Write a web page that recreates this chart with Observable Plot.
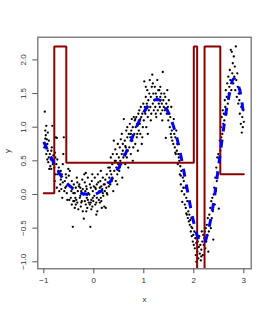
<!DOCTYPE html>
<html><head><meta charset="utf-8">
<script src="https://cdn.jsdelivr.net/npm/d3@7"></script>
<script src="https://cdn.jsdelivr.net/npm/@observablehq/plot@0.6"></script>
<style>body{margin:0;background:#fff}</style>
</head><body><div id="chart"></div>
<script>
const xTicks = [-1, 0, 1, 2, 3];
const yTicks = [-1, -0.5, 0, 0.5, 1, 1.5, 2];
const stepX = [-1, -0.79, -0.79, -0.55, -0.55, 2.0, 2.0, 2.067, 2.067, 2.215, 2.215, 2.53, 2.53, 3.0];
const stepY = [0.02, 0.02, 2.2, 2.2, 0.47, 0.47, 2.2, 2.2, -2, -2, 2.2, 2.2, 0.3, 0.3];
const fitX = [-1,-0.9,-0.8,-0.7,-0.6,-0.5,-0.4,-0.3,-0.2,-0.1,0,0.1,0.2,0.3,0.4,0.5,0.6,0.7,0.8,0.9,1,1.1,1.2,1.3,1.4,1.5,1.6,1.7,1.8,1.9,2,2.1,2.2,2.3,2.4,2.5,2.6,2.7,2.8,2.9,3];
const fitY = [0.78,0.62,0.47,0.33,0.22,0.14,0.08,0.03,0.01,0,0,0.03,0.08,0.16,0.28,0.4,0.55,0.72,0.9,1.08,1.22,1.33,1.4,1.41,1.35,1.2,1.0,0.72,0.35,-0.05,-0.42,-0.66,-0.72,-0.5,-0.1,0.45,1.0,1.45,1.72,1.6,1.15];
const points = [
[-0.98,1.23],[-0.97,0.95],[-0.95,1.02],[-0.96,0.88],[-0.94,0.82],[-0.93,0.75],[-0.99,0.7],[-0.92,0.65],[-0.95,0.6],[-0.9,0.55],[-0.93,0.52],[-0.91,0.48],[-0.96,0.72],[-0.9,0.8],[-0.92,0.92],[-0.97,0.83],
[-0.88,0.6],[-0.87,0.42],[-0.85,0.38],[-0.86,0.52],[-0.83,1.02],[-0.84,0.7],[-0.82,0.45],[-0.81,0.58],[-0.89,0.38],[-0.85,0.65],
[-0.78,0.62],[-0.77,0.55],[-0.76,0.85],[-0.74,0.84],[-0.75,0.45],[-0.73,0.52],[-0.72,0.3],[-0.71,0.35],[-0.79,0.4],[-0.78,0.2],[-0.74,0.1],[-0.7,0.4],[-0.76,0.3],
[-0.68,0.3],[-0.67,0.15],[-0.66,0.22],[-0.65,0.08],[-0.64,0.3],[-0.62,0.18],[-0.61,0.6],[-0.6,0.85],[-0.63,-0.05],[-0.69,0.05],[-0.62,0.45],[-0.66,0.35],
[-0.58,0.2],[-0.57,0.1],[-0.56,0.3],[-0.55,0.25],[-0.54,0.02],[-0.52,0.15],[-0.51,0.38],[-0.53,-0.08],[-0.59,0.05],[-0.5,0.28],[-0.55,0.12],
[-0.48,0.35],[-0.47,0.12],[-0.46,-0.05],[-0.45,0.05],[-0.44,0.2],[-0.43,0.08],[-0.42,-0.48],[-0.41,-0.1],[-0.4,0.15],[-0.49,-0.08],[-0.44,-0.15],[-0.41,0.02],
[-0.38,-0.2],[-0.37,-0.05],[-0.36,0.1],[-0.35,-0.08],[-0.34,0.25],[-0.33,-0.12],[-0.32,0.05],[-0.31,-0.22],[-0.3,0.12],[-0.39,-0.1],[-0.36,-0.15],[-0.33,0.18],[-0.38,0.02],
[-0.28,-0.05],[-0.27,0.1],[-0.26,-0.18],[-0.25,0.05],[-0.24,-0.1],[-0.23,0.22],[-0.22,-0.25],[-0.21,0.0],[-0.2,-0.36],[-0.29,0.15],[-0.25,-0.12],[-0.22,0.08],[-0.27,-0.02],
[-0.19,0.3],[-0.18,-0.1],[-0.17,0.05],[-0.16,-0.15],[-0.15,0.12],[-0.14,-0.05],[-0.13,-0.2],[-0.12,0.25],[-0.11,0.02],[-0.1,-0.12],[-0.18,0.18],[-0.15,-0.25],[-0.12,-0.08],[-0.14,0.08],[-0.16,0.32],
[-0.09,0.0],[-0.08,-0.15],[-0.07,-0.48],[-0.06,0.1],[-0.05,-0.08],[-0.04,0.2],[-0.03,-0.18],[-0.02,0.05],[-0.01,-0.1],[0,0.12],[-0.08,0.15],[-0.05,-0.22],[-0.03,0.3],[-0.06,-0.12],[-0.02,-0.05],
[0.01,-0.02],[0.02,0.25],[0.03,-0.15],[0.04,0.08],[0.05,-0.12],[0.06,0.15],[0.07,-0.25],[0.08,0.02],[0.09,0.18],[0.1,-0.08],[0.03,0.1],[0.06,-0.05],[0.08,0.3],[0.05,-0.3],
[0.11,0.05],[0.12,-0.12],[0.13,0.2],[0.14,-0.05],[0.15,0.12],[0.16,-0.2],[0.17,0.08],[0.18,0.25],[0.19,-0.02],[0.2,0.15],[0.12,0.1],[0.15,-0.1],[0.18,0.02],[0.14,0.35],
[0.21,-0.18],[0.22,0.05],[0.23,0.22],[0.24,-0.2],[0.25,0.1],[0.26,0.3],[0.27,0.0],[0.28,0.18],[0.29,0.4],[0.3,0.12],[0.22,0.15],[0.26,0.02],
[0.31,0.25],[0.32,0.4],[0.33,0.15],[0.34,0.55],[0.35,0.3],[0.36,0.2],[0.37,0.45],[0.38,0.6],[0.39,0.05],[0.4,0.8],[0.33,0.35],[0.37,0.25],
[0.41,0.35],[0.42,0.5],[0.43,0.67],[0.44,0.2],[0.45,0.4],[0.46,0.6],[0.47,0.3],[0.48,0.75],[0.49,0.45],[0.5,0.55],[0.44,0.5],[0.47,0.15],
[0.51,0.35],[0.52,0.7],[0.53,0.5],[0.54,0.82],[0.55,0.45],[0.56,0.6],[0.57,0.25],[0.58,0.75],[0.59,0.55],[0.6,1.12],[0.52,0.4],[0.56,0.9],[0.58,0.65],
[0.61,0.6],[0.62,0.8],[0.63,0.45],[0.64,0.7],[0.65,0.95],[0.66,0.55],[0.67,0.85],[0.68,0.65],[0.69,0.4],[0.7,0.9],[0.63,0.72],[0.67,1.0],
[0.71,0.7],[0.72,1.05],[0.73,0.85],[0.74,0.6],[0.75,0.95],[0.76,1.12],[0.77,0.8],[0.78,1.0],[0.79,0.7],[0.8,1.15],[0.74,0.9],[0.78,0.5],
[0.81,0.9],[0.82,1.1],[0.83,0.75],[0.84,1.0],[0.85,1.15],[0.86,0.85],[0.87,1.05],[0.88,0.65],[0.89,1.2],[0.9,0.95],[0.83,1.12],[0.87,0.9],
[0.91,1.25],[0.92,1.05],[0.93,0.9],[0.94,1.3],[0.95,1.15],[0.96,0.75],[0.97,1.2],[0.98,1.0],[0.99,1.35],[1.0,1.1],[0.93,1.12],[0.97,0.85],
[1.01,1.68],[1.02,1.3],[1.03,1.2],[1.04,1.45],[1.05,1.0],[1.06,1.35],[1.07,1.55],[1.08,1.15],[1.09,1.4],[1.1,1.25],[1.04,1.6],[1.08,0.9],
[1.11,1.5],[1.12,1.7],[1.13,1.3],[1.14,1.45],[1.15,1.2],[1.16,1.6],[1.17,1.78],[1.18,1.35],[1.19,1.5],[1.2,1.25],[1.14,1.1],[1.18,1.65],
[1.21,1.4],[1.22,1.6],[1.23,1.3],[1.24,1.5],[1.25,1.15],[1.26,1.45],[1.27,1.7],[1.28,1.25],[1.29,1.55],[1.3,1.35],[1.24,1.2],[1.28,1.4],
[1.31,1.55],[1.32,1.3],[1.33,1.45],[1.34,1.2],[1.35,1.5],[1.36,1.35],[1.37,1.25],[1.38,1.82],[1.39,1.4],[1.4,1.3],[1.33,1.6],[1.37,1.1],
[1.41,1.5],[1.42,1.25],[1.43,1.45],[1.44,0.84],[1.45,1.35],[1.46,1.2],[1.47,1.55],[1.48,1.3],[1.49,1.1],[1.5,1.4],[1.43,1.28],
[1.51,1.2],[1.52,1.0],[1.53,1.15],[1.54,0.9],[1.55,1.3],[1.56,0.95],[1.57,0.8],[1.58,1.05],[1.59,0.75],[1.6,1.12],[1.55,0.85],
[1.61,0.9],[1.62,0.7],[1.63,0.85],[1.64,0.6],[1.65,0.95],[1.66,0.65],[1.67,0.75],[1.68,0.45],[1.69,0.6],[1.7,0.55],[1.63,0.62],
[1.71,0.5],[1.72,0.3],[1.73,0.42],[1.74,0.15],[1.75,0.35],[1.76,0.05],[1.77,-0.11],[1.78,0.25],[1.79,0.1],[1.8,0.2],[1.74,0.28],
[1.81,0.0],[1.82,-0.15],[1.83,0.1],[1.84,-0.2],[1.85,-0.05],[1.86,-0.3],[1.87,-0.1],[1.88,-0.35],[1.89,-0.25],[1.9,-0.4],[1.85,-0.28],
[1.91,-0.3],[1.92,-0.45],[1.93,-0.38],[1.94,-0.55],[1.95,-0.48],[1.96,-0.62],[1.97,-0.5],[1.98,-0.7],[1.99,-0.6],[2.0,-0.75],[1.95,-0.35],
[2.01,-0.55],[2.02,-0.8],[2.03,-0.65],[2.04,-0.9],[2.05,-0.72],[2.06,-0.6],[2.07,-0.85],[2.08,-0.7],[2.09,-0.95],[2.1,-0.78],[2.05,-1.0],
[2.11,-0.62],[2.12,-0.88],[2.13,-0.75],[2.14,-0.98],[2.15,-0.82],[2.16,-0.55],[2.17,-0.7],[2.18,-0.9],[2.19,-0.6],[2.2,-0.75],[2.15,-0.92],
[2.21,-0.65],[2.22,-0.55],[2.23,-0.8],[2.24,-0.5],[2.25,-0.7],[2.26,-0.45],[2.27,-0.6],[2.28,-0.35],[2.29,-0.85],[2.3,-0.55],
[2.31,-0.3],[2.32,-0.45],[2.33,-0.2],[2.34,-0.5],[2.35,-0.1],[2.36,-0.35],[2.37,-0.05],[2.38,-0.25],[2.39,-0.67],[2.4,0.0],
[2.41,0.1],[2.42,-0.15],[2.43,0.25],[2.44,0.05],[2.45,0.4],[2.46,0.2],[2.47,0.55],[2.48,0.3],[2.49,0.6],[2.5,-0.21],
[2.51,0.5],[2.52,0.8],[2.53,0.65],[2.54,1.0],[2.55,0.85],[2.56,1.15],[2.57,0.9],[2.58,1.25],[2.59,1.05],[2.6,1.2],
[2.61,1.1],[2.62,1.4],[2.63,1.3],[2.64,1.55],[2.65,1.2],[2.66,1.45],[2.67,1.65],[2.68,1.35],[2.69,1.75],[2.7,1.5],
[2.71,1.6],[2.72,1.85],[2.73,1.7],[2.74,2.15],[2.75,1.55],[2.76,2.12],[2.77,1.8],[2.78,1.95],[2.79,1.65],[2.8,2.05],
[2.81,1.75],[2.82,1.9],[2.83,1.55],[2.84,2.2],[2.85,1.7],[2.86,1.45],[2.87,1.8],[2.88,1.6],[2.89,1.35],[2.9,1.5],
[2.91,1.4],[2.92,1.2],[2.93,1.55],[2.94,1.05],[2.95,1.3],[2.96,0.92],[2.97,1.15],[2.98,1.0],[2.99,1.25],[3.0,1.08]
];
const step = stepX.map((x, i) => ({x, y: stepY[i]}));
const fit = fitX.map((x, i) => ({x, y: fitY[i]}));
const pts = points.map(([x, y]) => ({x, y}));
const font = "Liberation Sans, Arial, sans-serif";
const chart = Plot.plot({
  width: 270, height: 315,
  marginLeft: 37.3, marginRight: 19.3, marginTop: 36.7, marginBottom: 46.7,
  style: {fontFamily: font, background: "#fff"},
  x: {domain: [-1.12, 3.148], axis: null},
  y: {domain: [-1.104, 2.337], axis: null},
  marks: [
    Plot.dot(pts, {x: "x", y: "y", r: 1.15, fill: "#000", stroke: "none"}),
    Plot.line(step, {x: "x", y: "y", stroke: "#8B0000", strokeWidth: 2, clip: true, strokeLinejoin: "miter"}),
    Plot.line(fit, {x: "x", y: "y", stroke: "#0000FF", strokeWidth: 3, strokeDasharray: "8,8", strokeLinecap: "butt", curve: "catmull-rom"}),
    Plot.frame({stroke: "#666", strokeWidth: 1.2}),
    Plot.axisX({ticks: xTicks, tickSize: 5, tickFormat: () => "", label: null, stroke: "#555"}),
    Plot.axisY({ticks: yTicks, tickSize: 5, tickFormat: () => "", label: null, stroke: "#555"}),
    Plot.text(xTicks, {x: d => d, frameAnchor: "bottom", dy: 14, text: d => d < 0 ? "\u2212" + Math.abs(d) : String(d), fontSize: 8, fill: "#333"}),
    Plot.text(yTicks, {y: d => d, frameAnchor: "left", dx: -14, rotate: -90, textAnchor: "middle", text: d => (d < 0 ? "\u2212" : "") + Math.abs(d).toFixed(1), fontSize: 8, fill: "#333"}),
    Plot.text(["x"], {frameAnchor: "bottom", dy: 33, text: d => d, fontSize: 8, fill: "#333"}),
    Plot.text(["y"], {frameAnchor: "left", dx: -30, rotate: -90, text: d => d, fontSize: 8, fill: "#333"})
  ]
});
document.getElementById("chart").appendChild(chart);
</script></body></html>
